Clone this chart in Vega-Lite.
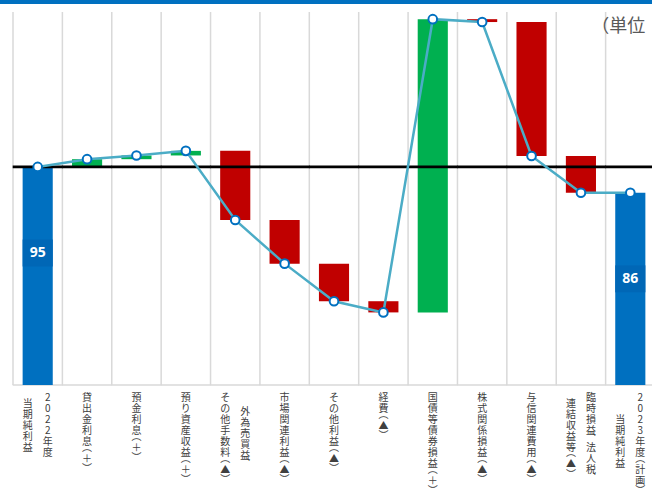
{
  "$schema": "https://vega.github.io/schema/vega-lite/v6.json",
  "width": 652,
  "height": 373,
  "autosize": {"type": "none"},
  "padding": {"left": 0, "top": 12, "right": 0, "bottom": 105},
  "background": "white",
  "config": {"view": {"stroke": null}, "font": "Noto Sans CJK JP"},
  "datasets": {
    "steps": [
      {"item": "2022年度当期純利益", "start": 0, "end": 95, "cum": 95, "kind": "total"},
      {"item": "貸出金利息", "start": 95, "end": 97.7, "cum": 97.7, "kind": "increase"},
      {"item": "預金利息", "start": 97.7, "end": 99.0, "cum": 99.0, "kind": "increase"},
      {"item": "預り資産収益", "start": 99.0, "end": 100.6, "cum": 100.6, "kind": "increase"},
      {"item": "外為売買益、その他手数料", "start": 100.6, "end": 76.5, "cum": 76.5, "kind": "decrease"},
      {"item": "市場関連利益", "start": 76.5, "end": 61.3, "cum": 61.3, "kind": "decrease"},
      {"item": "その他利益", "start": 61.3, "end": 48.2, "cum": 48.2, "kind": "decrease"},
      {"item": "経費", "start": 48.2, "end": 44.3, "cum": 44.3, "kind": "decrease"},
      {"item": "国債等債券損益", "start": 44.3, "end": 146.5, "cum": 146.5, "kind": "increase"},
      {"item": "株式関係損益", "start": 146.5, "end": 145.5, "cum": 145.5, "kind": "decrease"},
      {"item": "与信関連費用", "start": 145.5, "end": 98.8, "cum": 98.8, "kind": "decrease"},
      {"item": "臨時損益、法人税、連結収益等", "start": 98.8, "end": 86, "cum": 86, "kind": "decrease"},
      {"item": "2023年度当期純利益（計画）", "start": 0, "end": 86, "cum": 86, "kind": "total"}
    ],
    "labels": [
      {"item": "2022年度当期純利益", "col": "right", "text": "2022年度"},
      {"item": "2022年度当期純利益", "col": "left", "text": "当期純利益"},
      {"item": "貸出金利息", "col": "single", "text": "貸出金利息（＋）"},
      {"item": "預金利息", "col": "single", "text": "預金利息（＋）"},
      {"item": "預り資産収益", "col": "single", "text": "預り資産収益（＋）"},
      {"item": "外為売買益、その他手数料", "col": "right", "text": "外為売買益、"},
      {"item": "外為売買益、その他手数料", "col": "left", "text": "その他手数料（▲）"},
      {"item": "市場関連利益", "col": "single", "text": "市場関連利益（▲）"},
      {"item": "その他利益", "col": "single", "text": "その他利益（▲）"},
      {"item": "経費", "col": "single", "text": "経費（▲）"},
      {"item": "国債等債券損益", "col": "single", "text": "国債等債券損益（＋）"},
      {"item": "株式関係損益", "col": "single", "text": "株式関係損益（▲）"},
      {"item": "与信関連費用", "col": "single", "text": "与信関連費用（▲）"},
      {"item": "臨時損益、法人税、連結収益等", "col": "right", "text": "臨時損益、法人税、"},
      {"item": "臨時損益、法人税、連結収益等", "col": "left", "text": "連結収益等（▲）"},
      {"item": "2023年度当期純利益（計画）", "col": "right", "text": "2023年度（計画）"},
      {"item": "2023年度当期純利益（計画）", "col": "left", "text": "当期純利益"}
    ]
  },
  "layer": [
    {
      "data": {"name": "steps"},
      "mark": {"type": "rule", "color": "#D9D9D9", "strokeWidth": 1.5},
      "encoding": {
        "x": {
          "field": "item", "type": "nominal", "sort": null, "bandPosition": 0,
          "scale": {
            "domain": ["2022年度当期純利益", "貸出金利息", "預金利息", "預り資産収益", "外為売買益、その他手数料", "市場関連利益", "その他利益", "経費", "国債等債券損益", "株式関係損益", "与信関連費用", "臨時損益、法人税、連結収益等", "2023年度当期純利益（計画）"],
            "range": [13, 655], "paddingInner": 0, "paddingOuter": 0
          },
          "axis": null
        }
      }
    },
    {
      "data": {"name": "steps"},
      "mark": {"type": "tick", "orient": "horizontal", "color": "#D9D9D9", "size": 50, "thickness": 1.5, "opacity": 1},
      "encoding": {
        "x": {"field": "item", "type": "nominal", "sort": null, "axis": null},
        "y": {"datum": 19, "type": "quantitative", "scale": {"domain": [19, 149], "zero": false, "nice": false}, "axis": null}
      }
    },
    {
      "data": {"name": "steps"},
      "mark": {"type": "bar", "width": {"band": 0.61}, "clip": true},
      "encoding": {
        "x": {"field": "item", "type": "nominal", "sort": null, "axis": null},
        "y": {"field": "start", "type": "quantitative", "axis": null},
        "y2": {"field": "end"},
        "color": {"field": "kind", "type": "nominal", "scale": {"domain": ["total", "increase", "decrease"], "range": ["#0070C0", "#00B050", "#C00000"]}, "legend": null}
      }
    },
    {
      "data": {"name": "steps"},
      "transform": [
        {"filter": "datum.kind === 'total'"},
        {"calculate": "datum.end - 34.7", "as": "boxLow"},
        {"calculate": "datum.end - 25.3", "as": "boxHigh"}
      ],
      "mark": {"type": "bar", "width": {"band": 0.61}, "color": "#0067B6"},
      "encoding": {
        "x": {"field": "item", "type": "nominal", "sort": null, "axis": null},
        "y": {"field": "boxLow", "type": "quantitative"},
        "y2": {"field": "boxHigh"}
      }
    },
    {
      "data": {"name": "steps"},
      "mark": {"type": "tick", "orient": "horizontal", "color": "#000000", "size": 50, "thickness": 2.8, "opacity": 1},
      "encoding": {
        "x": {"field": "item", "type": "nominal", "sort": null, "axis": null},
        "y": {"datum": 95, "type": "quantitative"}
      }
    },
    {
      "data": {"name": "steps"},
      "mark": {"type": "line", "color": "#4BACC6", "strokeWidth": 2.5},
      "encoding": {
        "x": {"field": "item", "type": "nominal", "sort": null, "axis": null},
        "y": {"field": "cum", "type": "quantitative"}
      }
    },
    {
      "data": {"name": "steps"},
      "mark": {"type": "point", "filled": true, "fill": "#FFFFFF", "stroke": "#0070C0", "strokeWidth": 2, "size": 75, "opacity": 1},
      "encoding": {
        "x": {"field": "item", "type": "nominal", "sort": null, "axis": null},
        "y": {"field": "cum", "type": "quantitative"}
      }
    },
    {
      "data": {"name": "steps"},
      "transform": [
        {"filter": "datum.kind === 'total'"},
        {"calculate": "datum.end - 30", "as": "labelPos"}
      ],
      "mark": {"type": "text", "color": "#FFFFFF", "fontSize": 14, "fontWeight": "bold", "font": "Open Sans", "baseline": "middle"},
      "encoding": {
        "x": {"field": "item", "type": "nominal", "sort": null, "axis": null},
        "y": {"field": "labelPos", "type": "quantitative"},
        "text": {"field": "end", "type": "quantitative", "format": "d"}
      }
    },
    {
      "data": {"name": "labels"},
      "transform": [
        {"calculate": "replace(replace(replace(datum.text, regexp('（', 'g'), '︵'), regexp('）', 'g'), '︶'), regexp('、', 'g'), '︑')", "as": "vt"},
        {"calculate": "split(datum.vt, '')", "as": "chars"},
        {"flatten": ["chars"], "as": ["ch"]},
        {"calculate": "indexof('︵︶︑', datum.ch) >= 0 ? 5.5 : 11", "as": "h"},
        {"window": [{"op": "sum", "field": "h", "as": "cumH"}], "groupby": ["item", "col"], "frame": [null, 0]},
        {"joinaggregate": [{"op": "sum", "field": "h", "as": "colH"}], "groupby": ["item", "col"]},
        {"joinaggregate": [{"op": "max", "field": "colH", "as": "maxH"}], "groupby": ["item"]},
        {"calculate": "(datum.maxH - datum.colH) / 2 + datum.cumH - datum.h / 2 + (datum.ch === '︵' ? -2.5 : datum.ch === '︶' ? 2.5 : 0)", "as": "yo"}
      ],
      "layer": [
        {
          "transform": [{"filter": "datum.col === 'single'"}],
          "mark": {"type": "text", "align": "center", "baseline": "middle", "fontSize": 10, "color": "#404040", "dy": 7.5}
        },
        {
          "transform": [{"filter": "datum.col === 'left'"}],
          "mark": {"type": "text", "align": "center", "baseline": "middle", "fontSize": 10, "color": "#404040", "dy": 7.5, "dx": -10}
        },
        {
          "transform": [{"filter": "datum.col === 'right'"}],
          "mark": {"type": "text", "align": "center", "baseline": "middle", "fontSize": 10, "color": "#404040", "dy": 7.5, "dx": 10}
        }
      ],
      "encoding": {
        "x": {"field": "item", "type": "nominal", "sort": null, "axis": null},
        "y": {"value": {"expr": "height"}},
        "yOffset": {"field": "yo", "type": "quantitative", "scale": null},
        "text": {"field": "ch"}
      }
    },
    {
      "data": {"values": [{}]},
      "mark": {"type": "rule", "color": "#0070C0", "strokeWidth": 4, "clip": false},
      "encoding": {"y": {"datum": 152.5, "type": "quantitative"}}
    },
    {
      "data": {"values": [{}]},
      "mark": {"type": "text", "align": "left", "baseline": "top", "fontSize": 18, "color": "#595959", "dx": -39, "dy": 6},
      "encoding": {
        "x": {"datum": "2023年度当期純利益（計画）"},
        "y": {"datum": 149, "type": "quantitative"},
        "text": {"value": "（単位：億円）"}
      }
    }
  ]
}
